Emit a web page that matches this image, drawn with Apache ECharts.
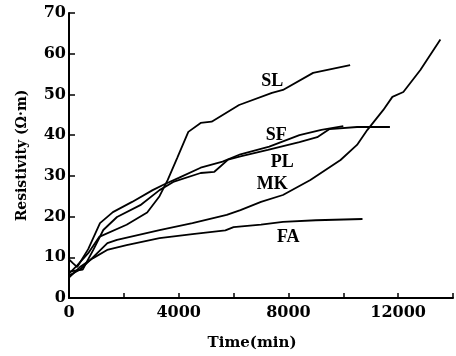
<!DOCTYPE html>
<html>
<head>
<meta charset="utf-8">
<script src="https://cdn.jsdelivr.net/npm/echarts@6/dist/echarts.min.js"></script>
<style>
  html, body { margin: 0; padding: 0; background: #fff; }
  #chart { width: 456px; height: 356px; }
</style>
</head>
<body>
<div id="chart"></div>
<script>
// curve names and their values, [time (min), resistivity]
const names = ['SL', 'SF', 'PL', 'MK', 'FA'];
const slData = [[0, 6], [300, 8], [700, 11], [1100, 15], [2100, 18], [2850, 21], [3300, 25], [3600, 29], [3950, 34.5], [4350, 40.8], [4800, 43], [5200, 43.3], [6200, 47.4], [7400, 50.4], [7800, 51.1], [8900, 55.3], [10250, 57.2]];
const sfData = [[0, 9.5], [150, 8.5], [300, 7.6], [700, 12], [1130, 18.4], [1600, 21.1], [2300, 23.6], [3050, 26.5], [3500, 28], [4000, 29.5], [4800, 32], [5600, 33.5], [6250, 35.3], [7300, 37.2], [8400, 40], [9200, 41.3], [10000, 42.2]];
const plData = [[0, 6.5], [500, 7], [900, 12], [1250, 16.7], [1750, 19.9], [2600, 22.8], [3300, 26.5], [3800, 28.5], [4800, 30.7], [5300, 31], [5800, 34], [6250, 34.8], [7250, 36.4], [8400, 38.3], [9050, 39.5], [9500, 41.5], [10500, 42], [11700, 42]];
const mkData = [[0, 5.5], [400, 7], [770, 9.3], [1400, 13.5], [1750, 14.3], [3300, 16.7], [4500, 18.4], [5750, 20.4], [6250, 21.6], [7000, 23.6], [7800, 25.3], [8800, 29], [9900, 33.9], [10500, 37.6], [10880, 41.3], [11460, 46.2], [11790, 49.4], [12190, 50.6], [12810, 56], [13540, 63.5]];
const faData = [[0, 5], [400, 7.6], [880, 9.8], [1390, 11.8], [2100, 13], [3300, 14.7], [4500, 15.7], [5700, 16.6], [6000, 17.4], [7000, 18], [7800, 18.7], [9000, 19.1], [10700, 19.4]];
const seriesData = [slData, sfData, plData, mkData, faData];
// where each curve's name is written, in data units
const labelAt = [[7410, 53.1], [7556, 40.0], [7775, 33.4], [7410, 27.8], [7994, 15.0]];

const xTicks = [0, 4000, 8000, 12000];

const chart = echarts.init(document.getElementById('chart'));
const font = 'DejaVu Serif';

const option = {
  animation: false,
  grid: { left: 69, right: 3, top: 13, bottom: 58 },
  xAxis: {
    type: 'value',
    min: 0,
    max: 14000,
    interval: 2000,
    name: 'Time(min)',
    nameLocation: 'middle',
    nameGap: 38,
    nameTextStyle: { fontFamily: font, fontWeight: 'bold', fontSize: 15, color: '#000', padding: [0, 18, 0, 0] },
    axisLine: { lineStyle: { color: '#000', width: 2 } },
    axisTick: { inside: true, length: 5, lineStyle: { color: '#000', width: 1.5 } },
    axisLabel: {
      margin: 7,
      fontFamily: font, fontWeight: 'bold', fontSize: 16, color: '#000',
      formatter: v => (xTicks.indexOf(v) >= 0 ? String(v) : '')
    },
    splitLine: { show: false }
  },
  yAxis: {
    type: 'value',
    min: 0,
    max: 70,
    interval: 10,
    name: 'Resistivity (Ω·m)',
    nameLocation: 'middle',
    nameGap: 40,
    nameTextStyle: { fontFamily: font, fontWeight: 'bold', fontSize: 14, color: '#000' },
    axisLine: { show: true, lineStyle: { color: '#000', width: 2 } },
    axisTick: { show: true, inside: true, length: 6, lineStyle: { color: '#000', width: 1.5 } },
    axisLabel: { margin: 3, fontFamily: font, fontWeight: 'bold', fontSize: 16, color: '#000' },
    splitLine: { show: false }
  },
  series: names.map((n, i) => ({
    name: n,
    type: 'line',
    data: seriesData[i],
    showSymbol: false,
    symbol: 'none',
    lineStyle: { color: '#000', width: 1.8 },
    markPoint: {
      symbol: 'circle',
      symbolSize: 0,
      data: [{ coord: labelAt[i], value: n }],
      label: {
        show: true,
        position: 'inside',
        formatter: n,
        fontFamily: 'Liberation Serif', fontWeight: 'bold', fontSize: 18, color: '#000'
      }
    }
  }))
};

chart.setOption(option);
</script>
</body>
</html>
